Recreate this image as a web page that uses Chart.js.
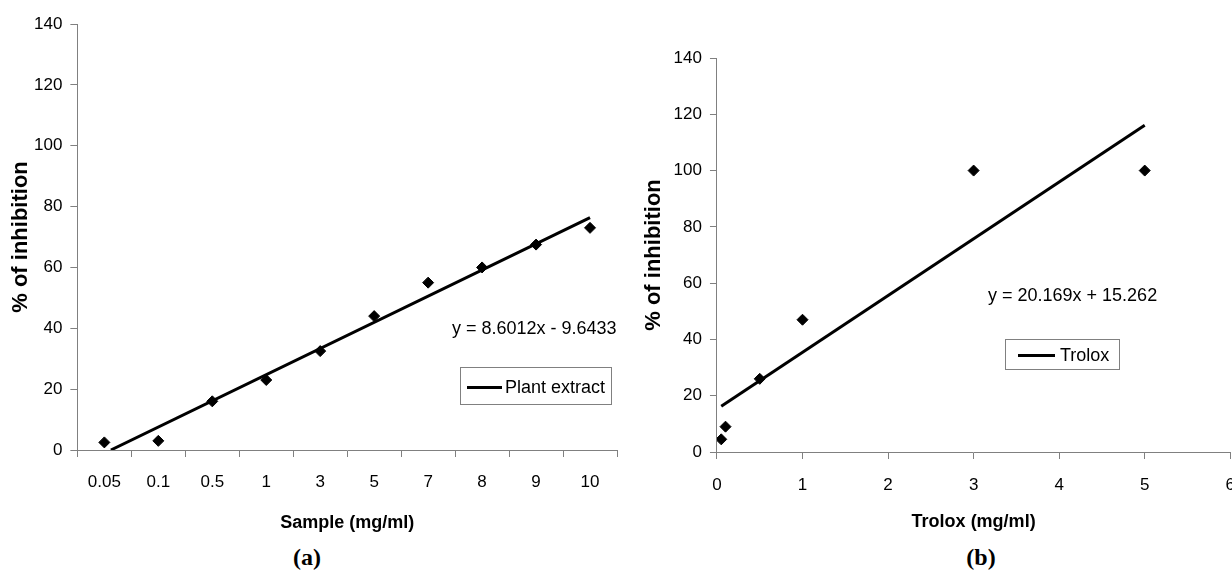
<!DOCTYPE html>
<html>
<head>
<meta charset="utf-8">
<script src="https://cdn.jsdelivr.net/npm/chart.js@4"></script>
<style>
  body { margin: 0; width: 1232px; height: 576px; overflow: hidden; position: relative; background: #fff; font-family: "Liberation Sans", Arial, sans-serif; }
  canvas { position: absolute; top: 0; }
  .eq { position: absolute; font-size: 18px; line-height: 20px; color: #000; white-space: nowrap; }
  .legend { position: absolute; border: 1px solid #808080; background: #fff; box-sizing: border-box; }
  .legend .mark { position: absolute; height: 3px; background: #000; }
  .legend .txt { position: absolute; font-size: 18px; line-height: 20px; white-space: nowrap; }
  .panel { position: absolute; font-family: "Liberation Serif", "Times New Roman", serif; font-weight: bold; font-size: 24px; transform: translateX(-50%); }
</style>
</head>
<body>
<canvas id="chartA" width="630" height="540" style="left:0"></canvas>
<!-- wider than the window on purpose: the last tick label "6" is cut off in the original -->
<canvas id="chartB" width="611" height="540" style="left:640px"></canvas>

<div class="eq" style="left:452px;top:318px">y = 8.6012x - 9.6433</div>
<div class="legend" style="left:460px;top:367px;width:152px;height:38px">
  <div class="mark" style="left:6px;top:18px;width:35px"></div>
  <div class="txt" style="left:44px;top:9px">Plant extract</div>
</div>

<div class="eq" style="left:988px;top:285px">y = 20.169x + 15.262</div>
<div class="legend" style="left:1005px;top:339px;width:115px;height:31px">
  <div class="mark" style="left:12px;top:14px;width:37px"></div>
  <div class="txt" style="left:54px;top:5px">Trolox</div>
</div>

<div class="panel" style="left:307px;top:544px">(a)</div>
<div class="panel" style="left:981px;top:544px">(b)</div>

<script>
// (a) plant extract, one point per concentration
const sampleLabels = ["0.05", "0.1", "0.5", "1", "3", "5", "7", "8", "9", "10"];
const sampleInhibition = [2.5, 3, 16, 23, 32.5, 44, 55, 60, 67.5, 73];
const sampleFit = [8.6012, -9.6433]; // slope, intercept (x = category number)

// (b) trolox
const troloxConc = [0.05, 0.1, 0.5, 1, 3, 5];
const troloxInhibition = [4.5, 9, 26, 47, 100, 100];
const troloxFit = [20.169, 15.262];

const yMin = 0, yMax = 140, yStep = 20;

Chart.defaults.font.family = "'Liberation Sans', Arial, sans-serif";
Chart.defaults.color = "#000";
Chart.defaults.animation = false;

const axisGrey = "#808080";

const yAxis = (titlePad) => ({
  min: yMin,
  max: yMax,
  ticks: { stepSize: yStep, font: { size: 17 }, padding: 8 },
  grid: { drawOnChartArea: false, tickLength: 7, color: axisGrey },
  border: { color: axisGrey },
  title: {
    display: true,
    text: "% of inhibition",
    font: { size: 22, weight: "bold", lineHeight: "10px" },
    padding: titlePad,
  },
});

// trend line for (a): from where the fit crosses 0 up to the last category
const fitStartA = -sampleFit[1] / sampleFit[0];
const lastA = sampleLabels.length;
const trendA = [
  { x: fitStartA, y: 0 },
  { x: lastA, y: sampleFit[0] * lastA + sampleFit[1] },
];

new Chart(document.getElementById("chartA"), {
  type: "line",
  data: {
    labels: sampleLabels,
    datasets: [
      {
        label: "points",
        data: sampleInhibition,
        showLine: false,
        pointStyle: "rectRot",
        pointRadius: 5.5,
        backgroundColor: "#000",
        borderColor: "#000",
      },
      {
        label: "Plant extract",
        data: trendA,
        xAxisID: "xt",
        borderColor: "#000",
        borderWidth: 3,
        pointRadius: 0,
      },
    ],
  },
  options: {
    responsive: false,
    layout: { padding: { top: 24, right: 13, bottom: 6, left: 16 } },
    plugins: { legend: { display: false }, tooltip: { enabled: false } },
    scales: {
      x: {
        offset: true,
        grid: { offset: true, drawOnChartArea: false, tickLength: 7, color: axisGrey },
        border: { color: axisGrey },
        ticks: { font: { size: 17 }, padding: 15, maxRotation: 0 },
        title: { display: true, text: "Sample (mg/ml)", font: { size: 18, weight: "bold" }, padding: { top: 5, bottom: 0 } },
      },
      xt: { type: "linear", min: 0.5, max: lastA + 0.5, display: false },
      y: yAxis({ top: 0, bottom: 0 }),
    },
  },
});

const lastB = troloxConc.length - 1;
const trendB = [
  { x: troloxConc[0], y: troloxFit[0] * troloxConc[0] + troloxFit[1] },
  { x: troloxConc[lastB], y: troloxFit[0] * troloxConc[lastB] + troloxFit[1] },
];

new Chart(document.getElementById("chartB"), {
  type: "scatter",
  data: {
    datasets: [
      {
        label: "points",
        data: troloxConc.map((c, i) => ({ x: c, y: troloxInhibition[i] })),
        pointStyle: "rectRot",
        pointRadius: 5.5,
        backgroundColor: "#000",
        borderColor: "#000",
      },
      {
        label: "Trolox",
        type: "line",
        data: trendB,
        borderColor: "#000",
        borderWidth: 3,
        pointRadius: 0,
      },
    ],
  },
  options: {
    responsive: false,
    layout: { padding: { top: 58, right: 0, bottom: 7, left: 9 } },
    plugins: { legend: { display: false }, tooltip: { enabled: false } },
    scales: {
      x: {
        min: 0,
        max: 6,
        grid: { drawOnChartArea: false, tickLength: 7, color: axisGrey },
        border: { color: axisGrey },
        ticks: { stepSize: 1, font: { size: 17 }, padding: 16, maxRotation: 0 },
        title: { display: true, text: "Trolox (mg/ml)", font: { size: 18, weight: "bold" }, padding: { top: 0, bottom: 0 } },
      },
      y: yAxis({ top: 0, bottom: 6.6 }),
    },
  },
});
</script>
</body>
</html>
